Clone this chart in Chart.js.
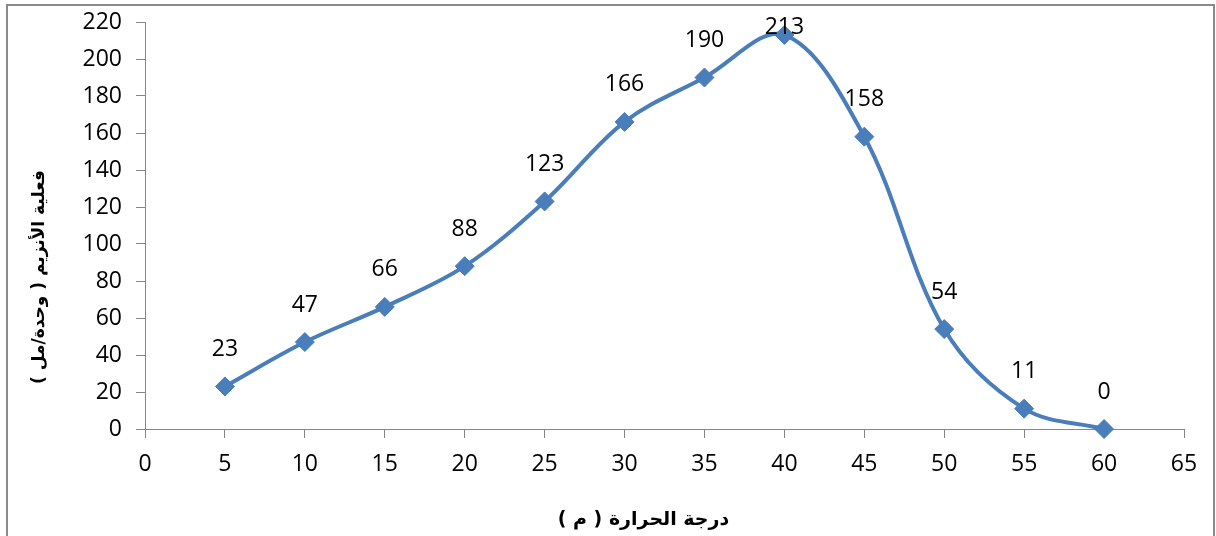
<!DOCTYPE html>
<html lang="ar">
<head>
<meta charset="utf-8">
<title>فعالية الأنزيم ودرجة الحرارة</title>
<script src="https://cdn.jsdelivr.net/npm/chart.js@4.4.1/dist/chart.umd.min.js"></script>
<style>
  html, body { margin: 0; padding: 0; background: #ffffff; }
  #wrap { position: relative; width: 1216px; height: 536px; }
  canvas { display: block; }
</style>
</head>
<body>
<div id="wrap"><canvas id="chart" width="1216" height="536"></canvas></div>
<script>
// Temperature (°C) and measured enzyme activity (units/ml)
const temperatures = [5, 10, 15, 20, 25, 30, 35, 40, 45, 50, 55, 60];
const activity     = [23, 47, 66, 88, 123, 166, 190, 213, 158, 54, 11, 0];

// Axis tick values
const xTickValues = [0, 5, 10, 15, 20, 25, 30, 35, 40, 45, 50, 55, 60, 65];
const yTickValues = [0, 20, 40, 60, 80, 100, 120, 140, 160, 180, 200, 220];

// Axis titles
const xTitle = 'درجة الحرارة ( م )';
const yTitle = 'فعلية الأنزيم ( وحدة/مل )';

const BLUE = '#4A7EBB';
const AXIS_GREY = '#868686';
const TICK_FONT = { family: '"Open Sans", "Liberation Sans", sans-serif', size: 23 };

// Outer frame around the whole chart
const framePlugin = {
  id: 'frame',
  beforeDraw(chart) {
    const ctx = chart.ctx;
    ctx.save();
    ctx.fillStyle = '#ffffff';
    ctx.fillRect(0, 0, chart.width, chart.height);
    ctx.strokeStyle = '#8a8a8a';
    ctx.lineWidth = 2;
    ctx.strokeRect(7, 5, 1207, 545);
    ctx.restore();
  }
};

// Value labels above each point
const valueLabelPlugin = {
  id: 'valueLabels',
  afterDatasetsDraw(chart) {
    const ctx = chart.ctx;
    const meta = chart.getDatasetMeta(0);
    const top = chart.chartArea.top;
    ctx.save();
    ctx.font = `${TICK_FONT.size}px ${TICK_FONT.family}`;
    ctx.fillStyle = '#000000';
    ctx.textAlign = 'center';
    ctx.textBaseline = 'middle';
    meta.data.forEach((pt, i) => {
      const y = Math.max(pt.y - 37, top + 5);
      ctx.fillText(String(activity[i]), pt.x, y);
    });
    ctx.restore();
  }
};

// Arabic axis titles
const axisTitlePlugin = {
  id: 'axisTitles',
  afterDraw(chart) {
    const ctx = chart.ctx;
    const area = chart.chartArea;
    ctx.save();
    ctx.fillStyle = '#000000';
    ctx.direction = 'rtl';
    ctx.textAlign = 'center';
    ctx.textBaseline = 'middle';
    ctx.font = 'bold 19px "DejaVu Sans", sans-serif';
    ctx.fillText(xTitle, (area.left + area.right) / 2 - 21, 520);
    ctx.font = 'bold 17px "DejaVu Sans", sans-serif';
    ctx.translate(40, 277);
    ctx.rotate(-Math.PI / 2);
    ctx.fillText(yTitle, 0, 0);
    ctx.restore();
  }
};

new Chart(document.getElementById('chart'), {
  type: 'line',
  data: {
    labels: temperatures,
    datasets: [{
      data: temperatures.map((t, i) => ({ x: t, y: activity[i] })),
      borderColor: BLUE,
      backgroundColor: BLUE,
      borderWidth: 4,
      tension: 0.35,
      fill: false,
      pointStyle: 'rectRot',
      pointRadius: 9.5,
      pointBorderWidth: 1,
      pointBackgroundColor: BLUE,
      pointBorderColor: BLUE,
      clip: false
    }]
  },
  options: {
    responsive: false,
    animation: false,
    devicePixelRatio: 1,
    layout: { padding: { top: 22, right: 32, bottom: 0, left: 0 } },
    plugins: {
      legend: { display: false },
      tooltip: { enabled: false },
      title: { display: false }
    },
    scales: {
      x: {
        type: 'linear',
        min: 0,
        max: 65,
        afterBuildTicks(scale) { scale.ticks = xTickValues.map(v => ({ value: v })); },
        afterFit(scale) { scale.height = 107; scale.paddingLeft = 0; scale.paddingRight = 0; },
        grid: {
          display: true,
          drawOnChartArea: false,
          drawTicks: true,
          tickLength: 9,
          tickColor: AXIS_GREY,
          color: AXIS_GREY
        },
        border: { display: true, color: AXIS_GREY, width: 1 },
        ticks: {
          color: '#000000',
          font: TICK_FONT,
          padding: 13,
          maxRotation: 0,
          autoSkip: false
        }
      },
      y: {
        type: 'linear',
        min: 0,
        max: 220,
        afterBuildTicks(scale) { scale.ticks = yTickValues.map(v => ({ value: v })); },
        afterFit(scale) { scale.width = 145; scale.paddingTop = 0; scale.paddingBottom = 0; },
        grid: {
          display: true,
          drawOnChartArea: false,
          drawTicks: true,
          tickLength: 9,
          tickColor: AXIS_GREY,
          color: AXIS_GREY
        },
        border: { display: true, color: AXIS_GREY, width: 1 },
        ticks: {
          color: '#000000',
          font: TICK_FONT,
          padding: 14,
          autoSkip: false
        }
      }
    }
  },
  plugins: [framePlugin, valueLabelPlugin, axisTitlePlugin]
});
</script>
</body>
</html>
